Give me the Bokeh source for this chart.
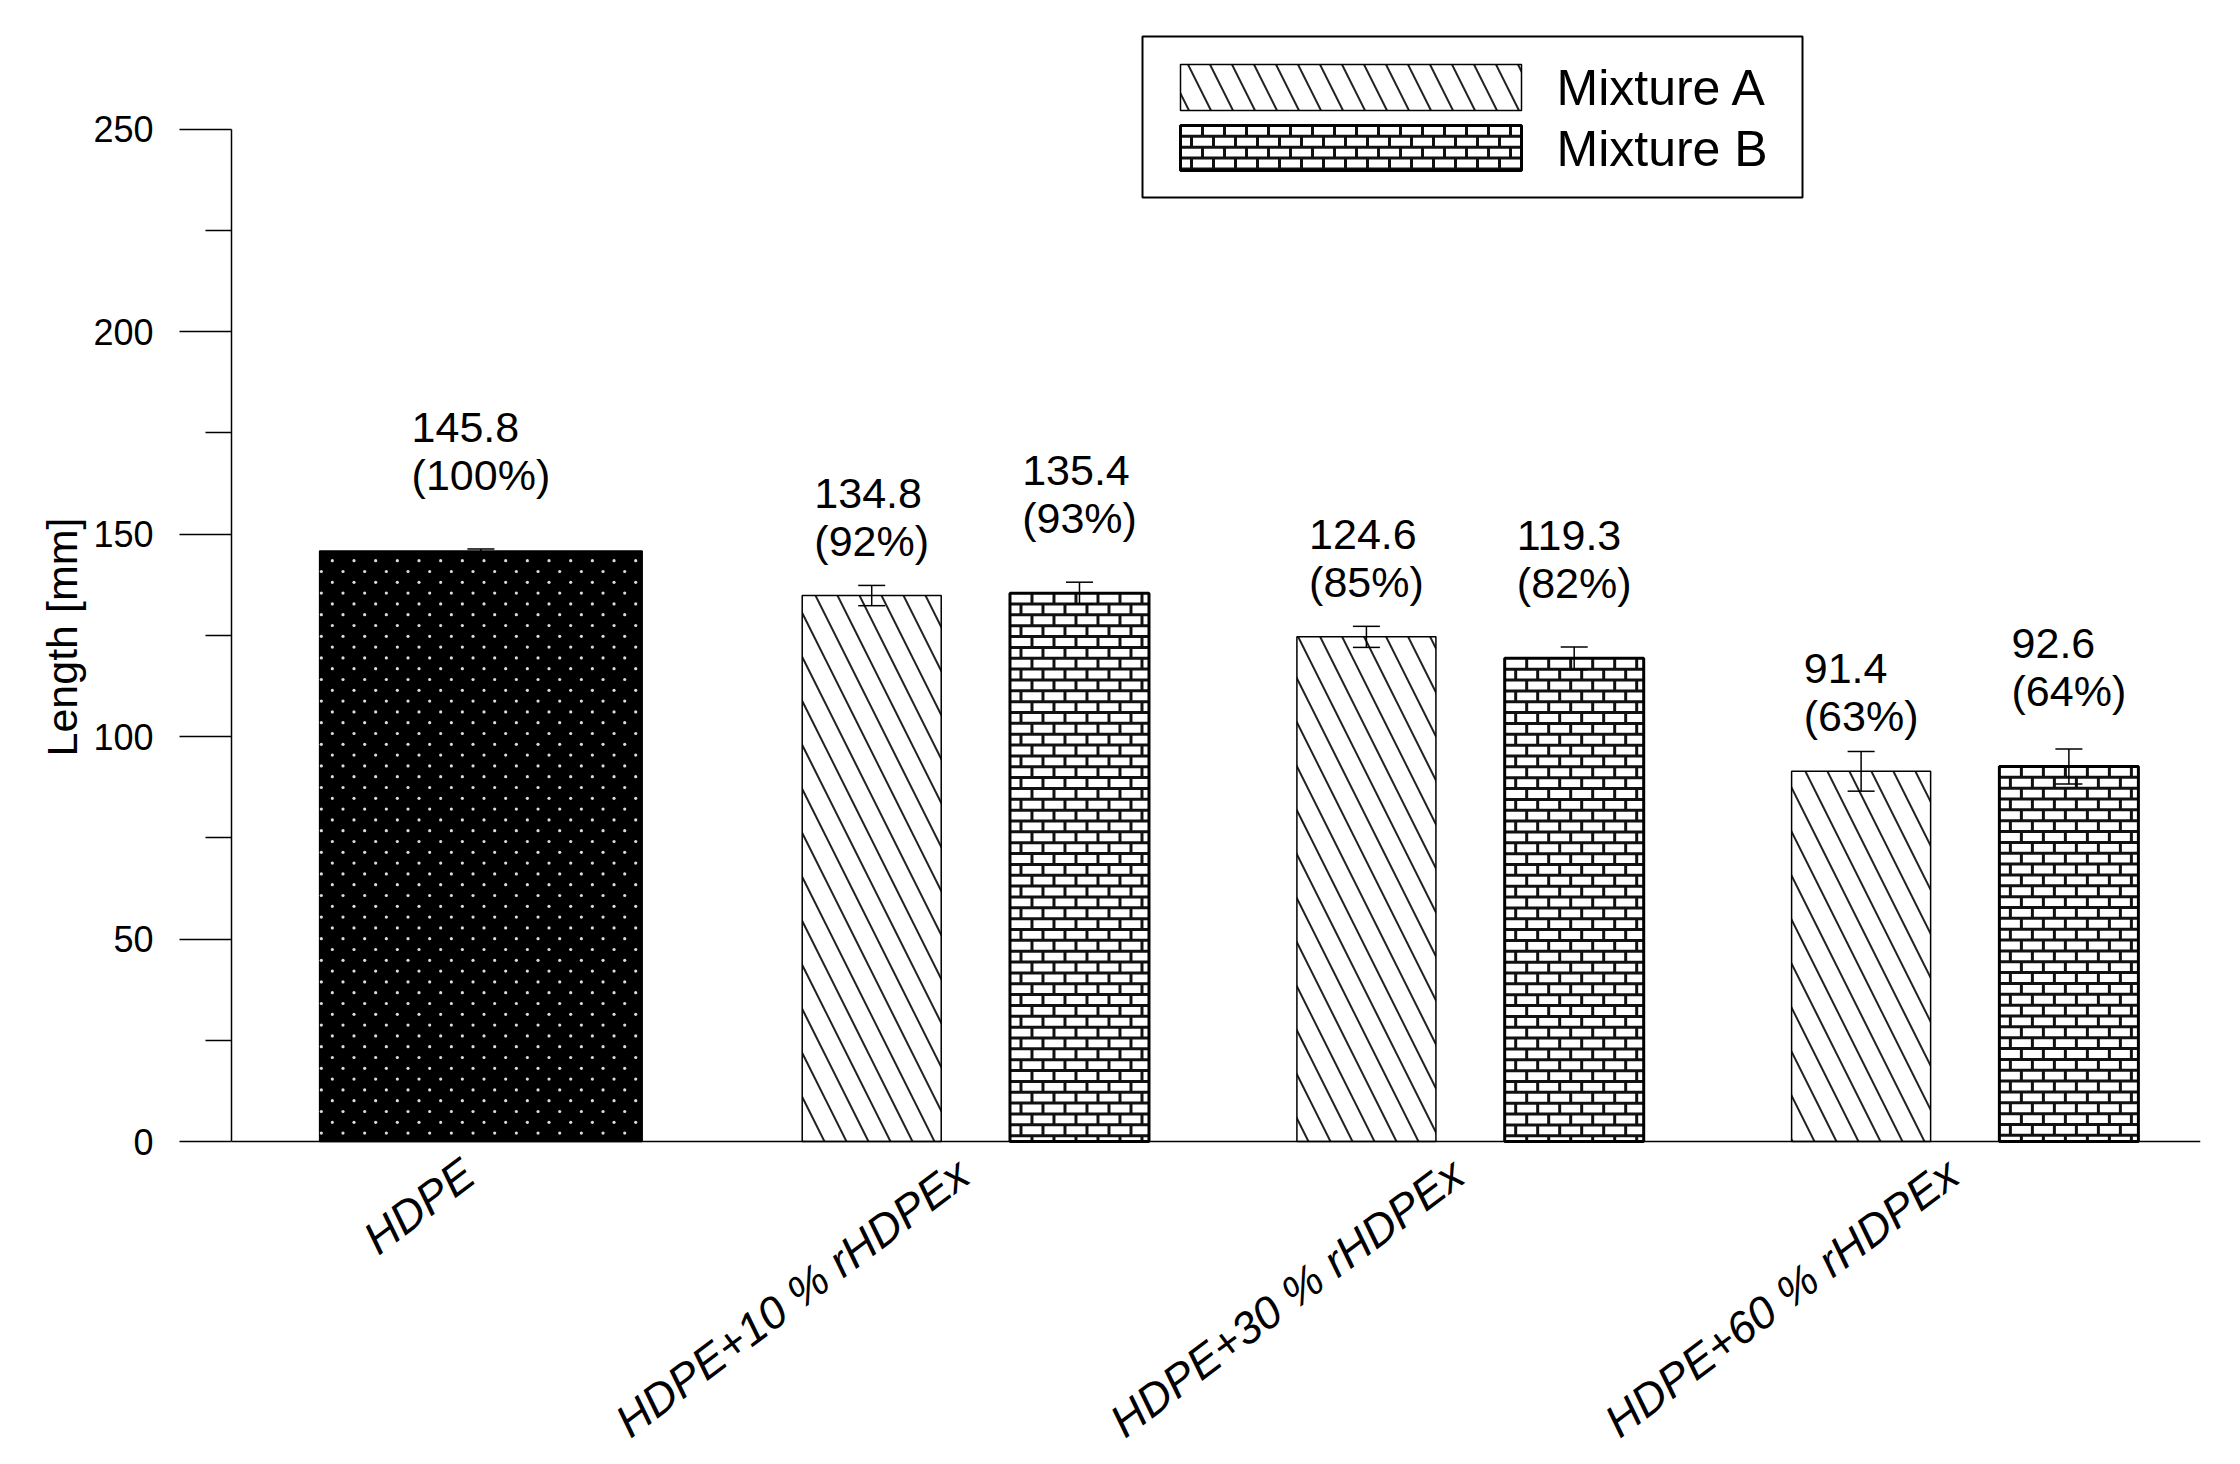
import math
from bokeh.plotting import figure
from bokeh.models import (ColumnDataSource, Range1d, FixedTicker, Whisker, TeeHead,
                          Span, Title)
from bokeh.core.properties import value
from bokeh.embed import file_html
from bokeh.resources import INLINE

# ---------------- data ----------------
categories = ["HDPE", "HDPE+10 % rHDPEx", "HDPE+30 % rHDPEx", "HDPE+60 % rHDPEx"]
series_names = ["Mixture A", "Mixture B"]

hdpe_value = [145.8]
hdpe_err = [0.5]
hdpe_pct = ["(100%)"]

mix_a_values = [134.8, 124.6, 91.4]
mix_a_err = [2.5, 2.6, 4.9]
mix_a_pct = ["(92%)", "(85%)", "(63%)"]

mix_b_values = [135.4, 119.3, 92.6]
mix_b_err = [2.7, 2.8, 4.3]
mix_b_pct = ["(93%)", "(82%)", "(64%)"]

y_major = [0, 50, 100, 150, 200, 250]
y_minor = [25, 75, 125, 175, 225]

# ---------------- styles / layout (pixels) ----------------
FONT = "Liberation Sans"
W, H = 2224, 1448
TOP, AXIS_Y = 18, 1141          # frame top, pixel row of value 0
LEFT_PX, RIGHT_PX = 231, 2200   # frame left / right
X0_PX, X_UNIT = 480.4, 494.7    # pixel of category 0, pixels per category
PX_PER_UNIT = 4.05              # pixels per mm on the value axis
GROUP_OFF = 0.21
BAR_W = 0.281
HDPE_W = 0.652
LABEL_PX = 43

BRICK_W_PX, BRICK_H_PX = 22.0, 10.85
DOT_DX_PX, DOT_DY_PX = 21.67, 10.8

CHAR_W = {"(": 0.333, ")": 0.333, "%": 0.889, ".": 0.278}


def text_w(s):
    return sum(CHAR_W.get(c, 0.556) for c in s) * LABEL_PX


def px2x(px):
    return (px - X0_PX) / X_UNIT


def px2y(py):
    return (AXIS_Y - py) / PX_PER_UNIT


p = figure(width=W, height=H, output_backend="svg", toolbar_location=None,
           x_range=Range1d(px2x(LEFT_PX), px2x(RIGHT_PX)),
           y_range=Range1d(px2y(H), px2y(TOP)),
           min_border_left=LEFT_PX, min_border_right=W - RIGHT_PX, min_border_top=TOP,
           min_border_bottom=0)
p.grid.visible = False
p.outline_line_color = None
p.background_fill_color = "white"
p.border_fill_color = "white"


def brick_lines(left, right, top, bottom):
    """mortar lines of a brick pattern inside a rectangle (data units)"""
    bw = BRICK_W_PX / X_UNIT
    bh = BRICK_H_PX / PX_PER_UNIT
    x0, y0, x1, y1 = [], [], [], []
    r = 0
    while True:
        yt = top - r * bh
        if yt <= bottom + 1e-9:
            break
        yb = max(bottom, yt - bh)
        if r > 0:
            x0.append(left); x1.append(right); y0.append(yt); y1.append(yt)
        xj = left + (bw if r % 2 == 0 else bw / 2)
        while xj < right - bw * 0.12:
            x0.append(xj); x1.append(xj); y0.append(yt); y1.append(yb)
            xj += bw
        r += 1
    return x0, y0, x1, y1


def dot_grid(left, right, top, bottom):
    dx = DOT_DX_PX / X_UNIT
    dy = DOT_DY_PX / PX_PER_UNIT
    xs, ys = [], []
    r = 0
    y = top - 9.7 / PX_PER_UNIT
    while y > bottom + 0.3:
        x = left + ((12.7 if r % 2 == 0 else 1.7) / X_UNIT)
        while x < right - 0.5 / X_UNIT:
            xs.append(x); ys.append(y)
            x += dx
        y -= dy
        r += 1
    return xs, ys


# ---- HDPE bar
src_h = ColumnDataSource(dict(x=[0.0], top=hdpe_value,
                              up=[v + e for v, e in zip(hdpe_value, hdpe_err)],
                              lo=[v - e for v, e in zip(hdpe_value, hdpe_err)]))
p.vbar(x="x", top="top", width=HDPE_W, bottom=0, source=src_h,
       fill_color="black", line_color="black", line_width=1.5)
dx_all, dy_all = [], []
for xc, v in zip([0.0], hdpe_value):
    a, b = dot_grid(xc - HDPE_W / 2, xc + HDPE_W / 2, v, 0)
    dx_all += a; dy_all += b
p.scatter(dx_all, dy_all, marker="circle", size=3.2, fill_color="#dcdcdc",
          line_color=None)

# ---- Mixture bars
xa = [i + 1 - GROUP_OFF for i in range(len(mix_a_values))]
xb = [i + 1 + GROUP_OFF for i in range(len(mix_b_values))]
src_a = ColumnDataSource(dict(x=xa, top=mix_a_values,
                              up=[v + e for v, e in zip(mix_a_values, mix_a_err)],
                              lo=[v - e for v, e in zip(mix_a_values, mix_a_err)]))
src_b = ColumnDataSource(dict(x=xb, top=mix_b_values,
                              up=[v + e for v, e in zip(mix_b_values, mix_b_err)],
                              lo=[v - e for v, e in zip(mix_b_values, mix_b_err)]))

HATCH_A = dict(fill_color="white", line_color="black", line_width=1.5,
               hatch_pattern=value("\\"), hatch_color="#222222",
               hatch_scale=44, hatch_weight=2)
BRICK_STYLE = dict(line_color="#111111", line_width=3)

p.vbar(x="x", top="top", width=BAR_W, bottom=0, source=src_a, **HATCH_A)
p.vbar(x="x", top="top", width=BAR_W, bottom=0, source=src_b,
       fill_color="white", line_color=None)
bx0, by0, bx1, by1 = [], [], [], []
for xc, v in zip(xb, mix_b_values):
    a, b, c, d = brick_lines(xc - BAR_W / 2, xc + BAR_W / 2, v, 0)
    bx0 += a; by0 += b; bx1 += c; by1 += d
p.segment(bx0, by0, bx1, by1, **BRICK_STYLE)
p.vbar(x="x", top="top", width=BAR_W, bottom=0, source=src_b,
       fill_alpha=0, line_color="black", line_width=3)

# x axis line at zero
p.add_layout(Span(location=0, dimension="width", line_color="black", line_width=1.5))

for src in (src_h, src_a, src_b):
    wsk = Whisker(source=src, base="x", upper="up", lower="lo", dimension="height",
                  line_color="black", line_width=1.5, level="overlay",
                  upper_head=TeeHead(size=27, line_color="black", line_width=1.5),
                  lower_head=TeeHead(size=27, line_color="black", line_width=1.5))
    p.add_layout(wsk)


# ---- value labels (two lines, left aligned inside a block centred on the bar)
def add_labels(xs, vals, pcts, lift):
    l1 = [f"{v:.1f}" for v in vals]
    offs = [-max(text_w(a), text_w(b)) / 2 for a, b in zip(l1, pcts)]
    s = ColumnDataSource(dict(x=xs, y=vals, t1=l1, t2=pcts, xo=offs))
    common = dict(x="x", y="y", source=s, text_font=value(FONT),
                  text_font_size=f"{LABEL_PX}px", text_color="black",
                  text_align="left", text_baseline="middle", x_offset="xo")
    p.text(text="t2", y_offset=-(lift + 15), **common)
    p.text(text="t1", y_offset=-(lift + 15 + 47.5), **common)


add_labels([0.0], hdpe_value, hdpe_pct, 61)
add_labels(xa, mix_a_values, mix_a_pct, 40)
add_labels(xb, mix_b_values, mix_b_pct, 60)

# ---- category labels, rotated, ending just below the axis
cat_src = ColumnDataSource(dict(x=list(range(len(categories))), y=[0] * len(categories),
                                t=categories))
p.text(x="x", y="y", text="t", source=cat_src, angle=math.radians(37),
       text_align="right", text_baseline="middle", x_offset=-12, y_offset=27,
       text_font=value(FONT), text_font_size="45px", text_font_style="italic",
       text_color="black")

# ---- axes
p.xaxis.visible = False

yax = p.yaxis[0]
yax.ticker = FixedTicker(ticks=y_major, minor_ticks=y_minor)
yax.bounds = (0, 250)
yax.axis_line_color = "black"
yax.axis_line_width = 1.5
yax.major_tick_line_width = 1.5
yax.minor_tick_line_width = 1.5
yax.major_tick_out = 52
yax.major_tick_in = 0
yax.minor_tick_out = 26
yax.minor_tick_in = 0
yax.major_label_standoff = 26
yax.major_label_text_font = FONT
yax.major_label_text_font_size = "36px"
yax.major_label_text_color = "black"

p.add_layout(Title(text="Length [mm]", align="right", offset=499, standoff=10,
                   vertical_align="bottom", text_font=FONT, text_font_size="43px",
                   text_font_style="normal", text_color="black"), "left")

# ---- legend (box, two swatches, two labels)
LEG_BOX = (1142, 1802, 36, 197)            # left, right, top, bottom (px)
SW_X = (1180, 1521)
SW_A_Y = (64, 110)
SW_B_Y = (125, 170)
LEG_TEXT_X = 1556
LEG_TEXT_Y = [87, 148]

p.quad(left=[px2x(LEG_BOX[0])], right=[px2x(LEG_BOX[1])],
       top=[px2y(LEG_BOX[2])], bottom=[px2y(LEG_BOX[3])],
       fill_color="white", line_color="black", line_width=2)
p.quad(left=[px2x(SW_X[0])], right=[px2x(SW_X[1])],
       top=[px2y(SW_A_Y[0])], bottom=[px2y(SW_A_Y[1])], **HATCH_A)
lx0, ly0, lx1, ly1 = brick_lines(px2x(SW_X[0]), px2x(SW_X[1]),
                                 px2y(SW_B_Y[0]), px2y(SW_B_Y[1]))
p.segment(lx0, ly0, lx1, ly1, **BRICK_STYLE)
p.quad(left=[px2x(SW_X[0])], right=[px2x(SW_X[1])],
       top=[px2y(SW_B_Y[0])], bottom=[px2y(SW_B_Y[1])],
       fill_alpha=0, line_color="black", line_width=3)
p.text(x=[px2x(LEG_TEXT_X)] * 2, y=[px2y(v) for v in LEG_TEXT_Y], text=series_names,
       text_font=value(FONT), text_font_size="50px", text_color="black",
       text_align="left", text_baseline="middle")

open("out.html", "w").write(file_html(p, INLINE))
